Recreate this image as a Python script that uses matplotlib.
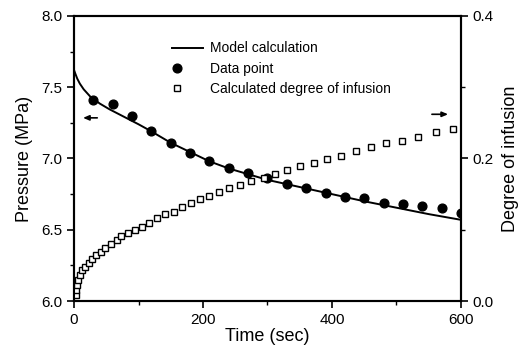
import numpy as np
import matplotlib
matplotlib.use("Agg")
import matplotlib.pyplot as plt
from matplotlib.legend_handler import HandlerLine2D
from matplotlib.ticker import MultipleLocator

plt.rcParams['font.family'] = ['Liberation Sans', 'DejaVu Sans']

# model calculation (pressure, MPa)
model_t = [0, 2, 5, 9, 15, 25, 40, 55, 70, 85, 100, 120, 150, 180, 210, 240,
           270, 300, 350, 400, 450, 500, 550, 600]
model_p = [7.62, 7.595, 7.56, 7.525, 7.485, 7.435, 7.385, 7.345, 7.31, 7.275,
           7.24, 7.19, 7.11, 7.045, 6.98, 6.93, 6.89, 6.85, 6.80, 6.75, 6.70,
           6.655, 6.61, 6.57]

# measured pressure
data_t = [30, 60, 90, 120, 150, 180, 210, 240, 270, 300,
          330, 360, 390, 420, 450, 480, 510, 540, 570, 600]
data_p = [7.41, 7.38, 7.30, 7.19, 7.11, 7.04, 6.98, 6.93, 6.90, 6.86,
          6.82, 6.79, 6.76, 6.73, 6.72, 6.69, 6.68, 6.67, 6.65, 6.62]

# calculated degree of infusion
inf_t = [3, 3, 5, 6, 9, 12, 17, 23, 28, 34, 42, 48, 58, 66, 73, 84, 95, 105,
         117, 128, 141, 155, 167, 181, 195, 209, 225, 241, 258, 275, 294, 312,
         330, 350, 372, 392, 414, 437, 461, 484, 508, 534, 561, 587]
inf_d = [0.008, 0.015, 0.022, 0.029, 0.036, 0.044, 0.048, 0.053, 0.059, 0.065,
         0.069, 0.074, 0.080, 0.086, 0.091, 0.095, 0.100, 0.104, 0.109, 0.116,
         0.122, 0.125, 0.132, 0.138, 0.143, 0.147, 0.153, 0.159, 0.163, 0.168,
         0.173, 0.178, 0.184, 0.189, 0.194, 0.199, 0.204, 0.211, 0.216, 0.222,
         0.225, 0.230, 0.237, 0.241]


class LeftMarkerHandler(HandlerLine2D):
    # put the marker near the left end of the handle, like the original
    def get_xdata(self, legend, xdescent, ydescent, width, height, fontsize):
        x = np.array([-xdescent + 0.15 * width])
        return x, x


fig = plt.figure(figsize=(5.25, 3.53), dpi=100)
ax = fig.add_axes([0.141, 0.147, 0.737, 0.808])
ax2 = ax.twinx()

l_model, = ax.plot(model_t, model_p, color='black', lw=1.4, label='Model calculation')
l_data, = ax.plot(data_t, data_p, 'o', color='black', ms=6.3, label='Data point')
l_inf, = ax2.plot(inf_t, inf_d, 's', mfc='white', mec='black', mew=1.0, ms=5,
                  label='Calculated degree of infusion')

ax.set_xlim(0, 600)
ax.set_ylim(6.0, 8.0)
ax2.set_ylim(0.0, 0.4)

ax.xaxis.set_major_locator(MultipleLocator(200))
ax.xaxis.set_minor_locator(MultipleLocator(100))
ax.yaxis.set_major_locator(MultipleLocator(0.5))
ax.yaxis.set_minor_locator(MultipleLocator(0.25))
ax2.yaxis.set_major_locator(MultipleLocator(0.2))
ax2.yaxis.set_minor_locator(MultipleLocator(0.1))
ax.xaxis.set_major_formatter('{x:.0f}')
ax.yaxis.set_major_formatter('{x:.1f}')
ax2.yaxis.set_major_formatter('{x:.1f}')

for a in (ax, ax2):
    a.tick_params(which='major', direction='out', length=5, width=1.2, labelsize=11)
    a.tick_params(which='minor', direction='out', length=3, width=1.0)
    for s in a.spines.values():
        s.set_linewidth(1.5)

ax.set_xlabel('Time (sec)', fontsize=13, labelpad=1)
ax.set_ylabel('Pressure (MPa)', fontsize=13, labelpad=6)
ax2.set_ylabel('Degree of infusion', fontsize=13, labelpad=6)

# arrows pointing to the axis each series belongs to
arrow = dict(arrowstyle='-|>,head_length=0.35,head_width=0.15', color='black',
             lw=1.2, shrinkA=0, shrinkB=0)
ax.annotate('', xy=(14, 7.285), xytext=(36, 7.285), arrowprops=arrow)
ax2.annotate('', xy=(580, 0.262), xytext=(555, 0.262), arrowprops=arrow)

leg = ax.legend(handles=[l_model, l_data, l_inf], loc='upper left',
                bbox_to_anchor=(0.24, 0.93), frameon=False, fontsize=10,
                handlelength=2.2, handletextpad=0.5, labelspacing=0.45,
                borderaxespad=0,
                handler_map={l_data: LeftMarkerHandler(), l_inf: LeftMarkerHandler()})

fig.savefig('out.png', dpi=100)
